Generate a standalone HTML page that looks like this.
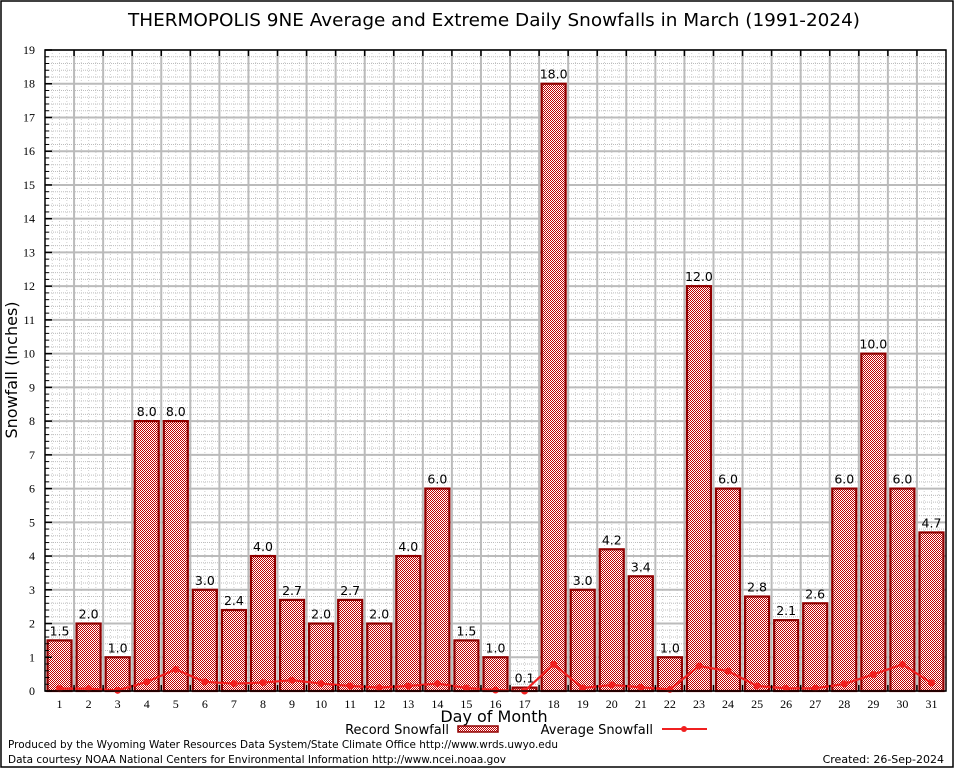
<!DOCTYPE html>
<html><head><meta charset="utf-8"><style>
body{margin:0;background:#fff}
svg{display:block;font-family:"DejaVu Sans","Liberation Sans",sans-serif}
</style></head><body>
<svg id="chart" width="954" height="768" xmlns="http://www.w3.org/2000/svg">
<defs>
<pattern id="chk" width="2" height="2" patternUnits="userSpaceOnUse">
<rect width="2" height="2" fill="#fff"/><rect width="1" height="1" fill="#c00000"/><rect x="1" y="1" width="1" height="1" fill="#c00000"/>
</pattern>
</defs>
<rect x="1" y="1" width="952" height="766" fill="#fff" stroke="#000" stroke-width="1.5"/>
<text x="494" y="26" font-size="18" text-anchor="middle" textLength="732" lengthAdjust="spacingAndGlyphs">THERMOPOLIS 9NE Average and Extreme Daily Snowfalls in March (1991-2024)</text>
<g id="grid"></g>
<g id="bars"></g>
<g id="avg"></g>
<g id="axes"></g>
<text x="17" y="370" font-size="16" text-anchor="middle" transform="rotate(-90 17 370)">Snowfall (Inches)</text>
<text x="494" y="722" font-size="16" text-anchor="middle">Day of Month</text>
<g>
<g>
<text x="449" y="734" font-size="13" text-anchor="end">Record Snowfall</text>
<rect x="458" y="726" width="40" height="6" fill="url(#chk)" stroke="#900000" stroke-width="1.5"/>
</g>
<g>
<text x="653" y="734" font-size="13" text-anchor="end">Average Snowfall</text>
<line x1="662" y1="729" x2="707" y2="729" stroke="#f02020" stroke-width="2"/>
<circle cx="684" cy="729" r="3" fill="#f02020"/>
</g>
</g>
<text x="8" y="748" font-size="11" textLength="550" lengthAdjust="spacingAndGlyphs">Produced by the Wyoming Water Resources Data System/State Climate Office http://www.wrds.uwyo.edu</text>
<text x="8" y="763" font-size="11" textLength="498" lengthAdjust="spacingAndGlyphs">Data courtesy NOAA National Centers for Environmental Information http://www.ncei.noaa.gov</text>
<text x="944" y="763" font-size="11" text-anchor="end">Created: 26-Sep-2024</text>
</svg>
<script>
const days = [1,2,3,4,5,6,7,8,9,10,11,12,13,14,15,16,17,18,19,20,21,22,23,24,25,26,27,28,29,30,31];
const recordSnow = [1.5,2.0,1.0,8.0,8.0,3.0,2.4,4.0,2.7,2.0,2.7,2.0,4.0,6.0,1.5,1.0,0.1,18.0,3.0,4.2,3.4,1.0,12.0,6.0,2.8,2.1,2.6,6.0,10.0,6.0,4.7];
const avgSnow = [0.07,0.07,0.02,0.27,0.64,0.27,0.22,0.25,0.32,0.22,0.15,0.1,0.15,0.22,0.09,0.03,0.0,0.79,0.09,0.18,0.11,0.05,0.74,0.59,0.15,0.08,0.08,0.21,0.49,0.79,0.24];
const yTicks = [0,1,2,3,4,5,6,7,8,9,10,11,12,13,14,15,16,17,18,19];

const L=45,R=946,T=50,B=691,YMAX=19;
const step=(R-L)/31;
const x = d => L+(d-0.5)*step;
const y = v => B-v*(B-T)/YMAX;
const NS="http://www.w3.org/2000/svg";
function mk(tag,attrs,parent){const e=document.createElementNS(NS,tag);for(const k in attrs)e.setAttribute(k,attrs[k]);parent.appendChild(e);return e;}
const grid=document.getElementById('grid'),bars=document.getElementById('bars'),avg=document.getElementById('avg'),axes=document.getElementById('axes');

for(let v=0;v<YMAX;v+=0.2){mk('line',{x1:L,x2:R,y1:y(v),y2:y(v),stroke:'#bdbdbd','stroke-width':1,'stroke-dasharray':'1,1'},grid);}
for(let i=0;i<31;i++){for(const f of [0.25,0.5,0.75]){const xx=L+(i+f)*step;mk('line',{x1:xx,x2:xx,y1:T,y2:B,stroke:'#d0d0d0','stroke-width':1,'stroke-dasharray':'1,2'},grid);}}
yTicks.forEach(v=>{mk('line',{x1:L,x2:R,y1:y(v),y2:y(v),stroke:'#bbb','stroke-width':2},grid);});
for(let i=1;i<31;i++){const xx=L+i*step;mk('line',{x1:xx,x2:xx,y1:T,y2:B,stroke:'#bbb','stroke-width':2},grid);}

days.forEach((d,i)=>{
 const v=recordSnow[i];
 const r=mk('rect',{x:x(d)-12,y:y(v),width:24,height:B-y(v),fill:'url(#chk)',stroke:'#900000','stroke-width':2.2},bars);
 
 
 const t=mk('text',{x:x(d),y:y(v)-5,'font-size':12.5,'text-anchor':'middle'},bars);
 t.textContent=v.toFixed(1);
 
 
});

const pl=mk('polyline',{points:days.map((d,i)=>x(d)+','+y(avgSnow[i])).join(' '),fill:'none',stroke:'#f02020','stroke-width':2.2},avg);


days.forEach((d,i)=>{
 const c=mk('circle',{cx:x(d),cy:y(avgSnow[i]),r:3.5,fill:'#f02020'},avg);
 
 
});

mk('rect',{x:L,y:T,width:R-L,height:B-T,fill:'none',stroke:'#000','stroke-width':1.5},axes);
yTicks.forEach(v=>{
 mk('line',{x1:L,x2:L+7,y1:y(v),y2:y(v),stroke:'#000','stroke-width':1.5},axes);
 const t=mk('text',{x:L-10,y:y(v)+4,'font-size':12,'text-anchor':'end','font-family':'Liberation Serif, serif'},axes);
 t.textContent=v;
 
 
});
for(let v=0;v<YMAX;v+=0.2){mk('line',{x1:L,x2:L+4,y1:y(v),y2:y(v),stroke:'#000','stroke-width':1},axes);}
for(let i=1;i<31;i++){const xx=L+i*step;mk('line',{x1:xx,x2:xx,y1:T,y2:T+6,stroke:'#000','stroke-width':1.5},axes);mk('line',{x1:xx,x2:xx,y1:B,y2:B-6,stroke:'#000','stroke-width':1.5},axes);}
days.forEach(d=>{
 const t=mk('text',{x:x(d),y:B+17,'font-size':12,'text-anchor':'middle','font-family':'Liberation Serif, serif'},axes);
 t.textContent=d;
 
 
});
</script>
</body></html>
